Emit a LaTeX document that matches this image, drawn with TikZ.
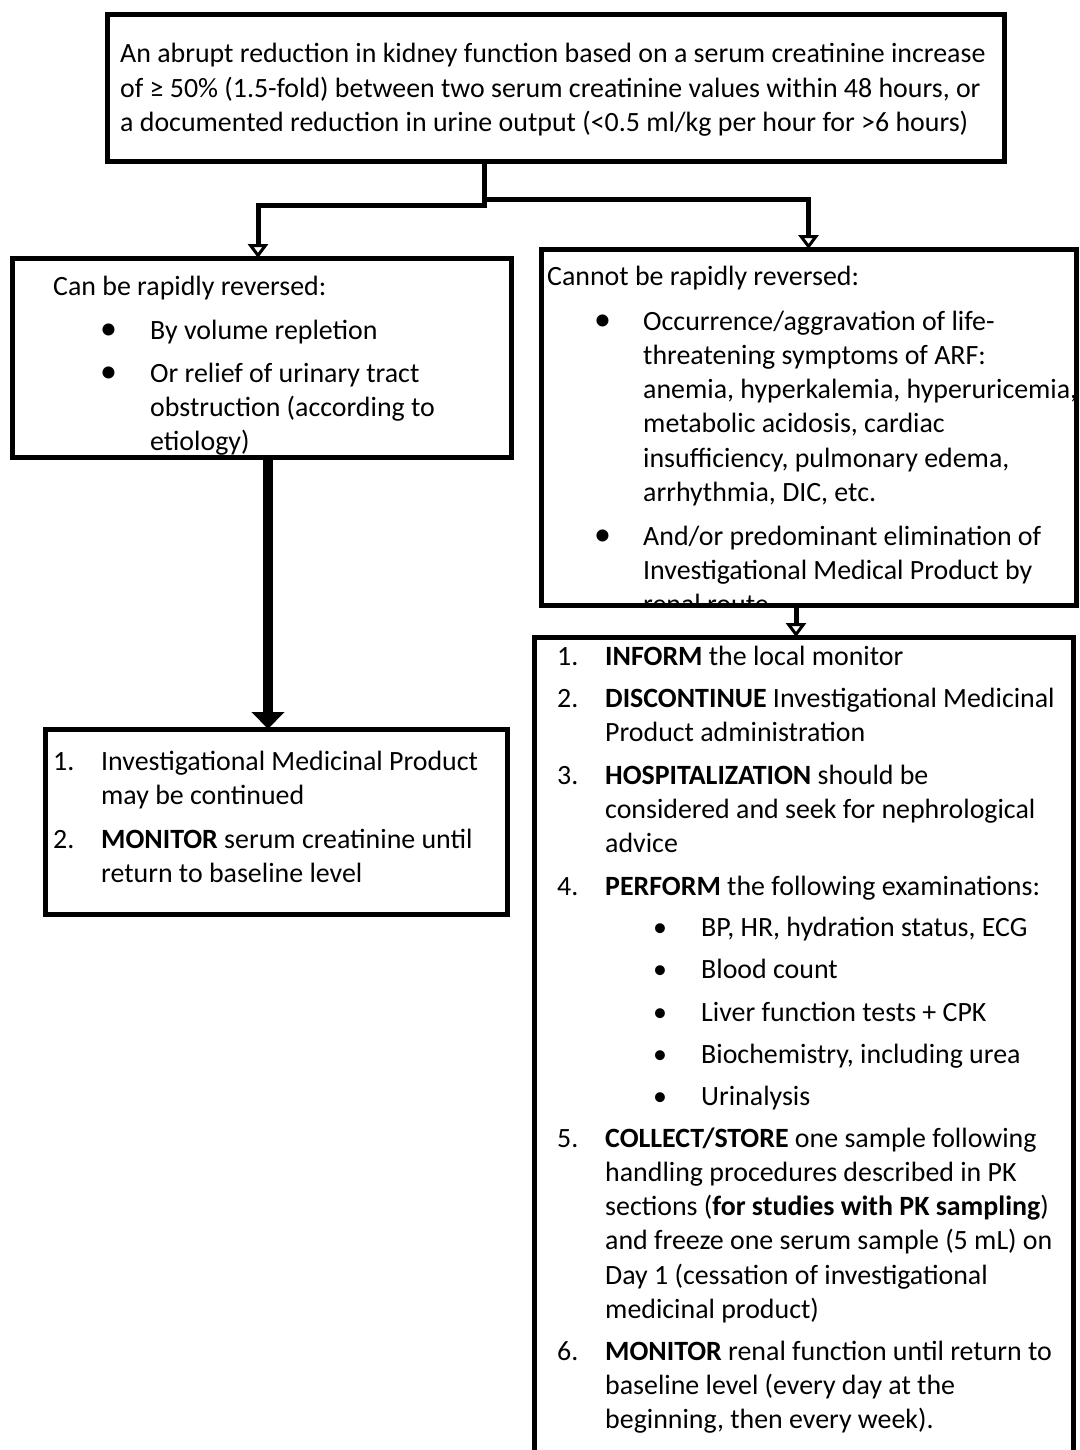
\documentclass[tikz,border=0pt]{standalone}
\usepackage{fontspec}
\setmainfont{Carlito}
\usetikzlibrary{arrows.meta, positioning}

\begin{document}
\begin{tikzpicture}[
    x=1pt, y=-1pt,
    box/.style={rectangle, draw=black, line width=5pt, inner sep=0pt,
                outer sep=0pt, anchor=north west},
    txt/.style={anchor=base west, inner sep=0pt, align=left,
                font=\fontsize{27.9}{34.3}\selectfont},
    dot/.style={txt, font=\fontsize{34}{34.3}\selectfont},
    link/.style={line width=5pt, -{Triangle[open, line width=3pt, width=20pt, length=14pt]}},
    bigarrow/.style={line width=10pt, -{Triangle[width=32pt, length=17pt]}}
]
\useasboundingbox (0,0) rectangle (1079,1450);

% Boxes
\node[box, minimum width=897pt, minimum height=147pt] (event) at (107,15) {};
\node[box, minimum width=499pt, minimum height=199pt] (canrev) at (12,258) {};
\node[box, minimum width=535pt, minimum height=356pt] (cannotrev) at (541,249) {};
\node[box, minimum width=462pt, minimum height=185pt] (contprod) at (45,729) {};
\node[box, minimum width=539pt, minimum height=830pt] (actions) at (534,637) {};

% Definition (multi-line texts sit on the baseline of their last line)
\node[txt] (evtext) at (120,131.6) {An abrupt reduction in kidney function based on a serum creatinine increase\\
of ≥ 50\% (1.5-fold) between two serum creatinine values within 48 hours, or\\
a documented reduction in urine output (<0.5 ml/kg per hour for >6 hours)};

% Can be rapidly reversed
\begin{scope}
\clip ([shift={(2.5,2.5)}]canrev.north west) rectangle ([shift={(-2.5,-2.5)}]canrev.south east);
\node[txt] (canhead) at (53,295) {Can be rapidly reversed:};
\node[dot] (canbul1) at (100,339) {•};
\node[txt] (canitem1) at (150,339) {By volume repletion};
\node[dot] (canbul2) at (100,382) {•};
\node[txt] (canitem2) at (150,450.6) {Or relief of urinary tract\\obstruction (according to\\etiology)};
\end{scope}

% Cannot be rapidly reversed
\begin{scope}
\clip ([shift={(2.5,2.5)}]cannotrev.north west) rectangle ([shift={(-2.5,-2.5)}]cannotrev.south east);
\node[txt] (nothead) at (547,285) {Cannot be rapidly reversed:};
\node[dot] (notbul1) at (594,330) {•};
\node[txt] (notitem1) at (643,501.5) {Occurrence/aggravation of life-\\
threatening symptoms of ARF:\\
anemia, hyperkalemia, hyperuricemia,\\
metabolic acidosis, cardiac\\
insufficiency, pulmonary edema,\\
arrhythmia, DIC, etc.};
\node[dot] (notbul2) at (594,545) {•};
\node[txt] (notitem2) at (643,613.6) {And/or predominant elimination of\\
Investigational Medical Product by\\
renal route};
\end{scope}

% Continue
\node[txt] (contnum1) at (53,770) {1.};
\node[txt] (contitem1) at (101,804.3) {Investigational Medicinal Product\\may be continued};
\node[txt] (contnum2) at (53,848) {2.};
\node[txt] (contitem2) at (101,882.3) {\textbf{MONITOR} serum creatinine until\\return to baseline level};

% Actions
\node[txt] (actnum1) at (557,665) {1.};
\node[txt] (actitem1) at (605,665) {\textbf{INFORM} the local monitor};
\node[txt] (actnum2) at (557,707) {2.};
\node[txt] (actitem2) at (605,741.3) {\textbf{DISCONTINUE} Investigational Medicinal\\Product administration};
\node[txt] (actnum3) at (557,784) {3.};
\node[txt] (actitem3) at (605,852.6) {\textbf{HOSPITALIZATION} should be\\considered and seek for nephrological\\advice};
\node[txt] (actnum4) at (557,895) {4.};
\node[txt] (actitem4) at (605,895) {\textbf{PERFORM} the following examinations:};
\foreach \y/\exam [count=\i] in {936/{BP, HR, hydration status, ECG}, 978/Blood count,
    1021/Liver function tests + CPK, 1063/{Biochemistry, including urea}, 1105/Urinalysis} {
  \node[txt] (exbul\i) at (653,\y) {\textbullet};
  \node[txt] (exam\i) at (701,\y) {\exam};
}
\node[txt] (actnum5) at (557,1147) {5.};
\node[txt] (actitem5) at (605,1318.5) {\textbf{COLLECT/STORE} one sample following\\
handling procedures described in PK\\
sections (\textbf{for studies with PK sampling})\\
and freeze one serum sample (5 mL) on\\
Day 1 (cessation of investigational\\
medicinal product)};
\node[txt] (actnum6) at (557,1360) {6.};
\node[txt] (actitem6) at (605,1428.6) {\textbf{MONITOR} renal function until return to\\
baseline level (every day at the\\
beginning, then every week).};

% Connectors
\coordinate (fork) at (484,205);
\coordinate (split) at (484,200);
\coordinate (leftx) at (258,0);
\coordinate (thickx) at (268,0);
\coordinate (rightx) at (796,0);
\draw[link] (event.south -| fork) -- (fork) -| (canrev.north -| leftx);
\draw[link] (split) -| (cannotrev.north);
\draw[bigarrow] (canrev.south -| thickx) -- (contprod.north -| thickx);
\draw[link] (cannotrev.south -| rightx) -- (actions.north -| rightx);

\end{tikzpicture}
\end{document}
